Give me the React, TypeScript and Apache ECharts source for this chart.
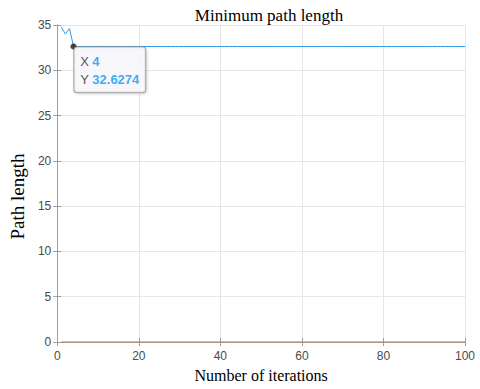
import React, { useEffect, useRef } from "react";
import * as echarts from "echarts";

// Best (minimum) path length found at each iteration (iterations 1..100)
const bestLength: number[] = [
  34.75, 34.0, 34.6, 32.6274, 32.6274, 32.6274, 32.6274, 32.6274, 32.6274, 32.6274,
  32.6274, 32.6274, 32.6274, 32.6274, 32.6274, 32.6274, 32.6274, 32.6274, 32.6274, 32.6274,
  32.6274, 32.6274, 32.6274, 32.6274, 32.6274, 32.6274, 32.6274, 32.6274, 32.6274, 32.6274,
  32.6274, 32.6274, 32.6274, 32.6274, 32.6274, 32.6274, 32.6274, 32.6274, 32.6274, 32.6274,
  32.6274, 32.6274, 32.6274, 32.6274, 32.6274, 32.6274, 32.6274, 32.6274, 32.6274, 32.6274,
  32.6274, 32.6274, 32.6274, 32.6274, 32.6274, 32.6274, 32.6274, 32.6274, 32.6274, 32.6274,
  32.6274, 32.6274, 32.6274, 32.6274, 32.6274, 32.6274, 32.6274, 32.6274, 32.6274, 32.6274,
  32.6274, 32.6274, 32.6274, 32.6274, 32.6274, 32.6274, 32.6274, 32.6274, 32.6274, 32.6274,
  32.6274, 32.6274, 32.6274, 32.6274, 32.6274, 32.6274, 32.6274, 32.6274, 32.6274, 32.6274,
  32.6274, 32.6274, 32.6274, 32.6274, 32.6274, 32.6274, 32.6274, 32.6274, 32.6274, 32.6274,
];

// Second series, flat at zero (iterations 1..100)
const secondSeries: number[] = [
  0, 0, 0, 0, 0, 0, 0, 0, 0, 0,
  0, 0, 0, 0, 0, 0, 0, 0, 0, 0,
  0, 0, 0, 0, 0, 0, 0, 0, 0, 0,
  0, 0, 0, 0, 0, 0, 0, 0, 0, 0,
  0, 0, 0, 0, 0, 0, 0, 0, 0, 0,
  0, 0, 0, 0, 0, 0, 0, 0, 0, 0,
  0, 0, 0, 0, 0, 0, 0, 0, 0, 0,
  0, 0, 0, 0, 0, 0, 0, 0, 0, 0,
  0, 0, 0, 0, 0, 0, 0, 0, 0, 0,
  0, 0, 0, 0, 0, 0, 0, 0, 0, 0,
];

// Data tip
const tipX = 4;
const tipY = 32.6274;

const titleText = "Minimum path length";
const xName = "Number of iterations";
const yName = "Path length";

export default function App() {
  const ref = useRef<HTMLDivElement>(null);

  useEffect(() => {
    if (!ref.current) return;
    const chart = echarts.init(ref.current, null, { renderer: "svg" });
    const iterations = bestLength.map((_, i) => i + 1);
    const axisGray = "#9E9E9E";
    const labelGray = "#4A4A4A";
    const serif = "'Liberation Serif', 'Times New Roman', serif";
    const sans = "'Liberation Sans', Arial, sans-serif";

    const hiddenAxisCommon = {
      axisLine: { show: true, lineStyle: { color: axisGray, width: 1 } },
      axisTick: { show: true, inside: true, length: 4, lineStyle: { color: axisGray } },
      axisLabel: { show: false },
      splitLine: { show: false },
    };

    chart.setOption({
      animation: false,
      backgroundColor: "#ffffff",
      title: {
        text: titleText,
        left: 264,
        textAlign: "center",
        top: 2,
        textStyle: { fontFamily: serif, fontSize: 17, fontWeight: "normal", color: "#000" },
      },
      grid: { left: 56, right: 15, top: 25, bottom: 47, containLabel: false },
      xAxis: [
        {
          type: "value",
          min: 0,
          max: 100,
          interval: 20,
          name: xName,
          nameLocation: "middle",
          nameGap: 25,
          nameTextStyle: { fontFamily: serif, fontSize: 16, color: "#000" },
          axisLine: { show: true, onZero: false, lineStyle: { color: axisGray, width: 1 } },
          axisTick: { show: true, inside: true, length: 4, lineStyle: { color: axisGray } },
          axisLabel: { fontFamily: sans, fontSize: 12, color: labelGray, margin: 8 },
          splitLine: { show: true, lineStyle: { color: "#E6E6E6", width: 1 } },
        },
        {
          type: "value",
          position: "top",
          min: 0,
          max: 100,
          interval: 20,
          ...hiddenAxisCommon,
        },
      ],
      yAxis: [
        {
          type: "value",
          min: 0,
          max: 35,
          interval: 5,
          name: yName,
          nameLocation: "middle",
          nameGap: 19,
          nameTextStyle: {
            fontFamily: serif,
            fontSize: 19,
            color: "#000",
            padding: [0, 26, 0, 0],
          },
          axisLine: { show: true, onZero: false, lineStyle: { color: axisGray, width: 1 } },
          axisTick: { show: true, inside: true, length: 4, lineStyle: { color: axisGray } },
          axisLabel: { fontFamily: sans, fontSize: 12, color: labelGray, margin: 6 },
          splitLine: { show: true, lineStyle: { color: "#E6E6E6", width: 1 } },
        },
        {
          type: "value",
          position: "right",
          min: 0,
          max: 35,
          interval: 5,
          ...hiddenAxisCommon,
        },
      ],
      series: [
        {
          type: "line",
          name: "best",
          data: iterations.map((x, i) => [x, bestLength[i]]),
          showSymbol: false,
          symbol: "none",
          lineStyle: { color: "#2E9BEA", width: 1 },
          z: 3,
        },
        {
          type: "line",
          name: "second",
          data: iterations.map((x, i) => [x, secondSeries[i]]),
          showSymbol: false,
          symbol: "none",
          lineStyle: { color: "#DE6A38", width: 1.2 },
          z: 4,
        },
        {
          type: "scatter",
          name: "datatip",
          data: [[tipX, tipY]],
          symbol: "circle",
          symbolSize: 6,
          itemStyle: { color: "#1a1a1a", borderColor: "#6b6b2a", borderWidth: 0.5 },
          z: 10,
          label: {
            show: true,
            position: [4, 4],
            align: "left",
            verticalAlign: "top",
            formatter: `{l|X} {v|${tipX}}\n{l|Y} {v|${tipY}}`,
            backgroundColor: "#FAFAFF",
            borderColor: "#8C8C8C",
            borderWidth: 1,
            borderRadius: 3,
            padding: [5, 6, 4, 6],
            shadowColor: "rgba(0,0,0,0.18)",
            shadowBlur: 3,
            shadowOffsetX: 1,
            shadowOffsetY: 1,
            rich: {
              l: { fontFamily: sans, fontSize: 13, color: "#262626", lineHeight: 18 },
              v: { fontFamily: sans, fontSize: 13, color: "#0A96F0", fontWeight: "bold", lineHeight: 18 },
            },
          },
        },
      ],
    });

    return () => chart.dispose();
  }, []);

  return (
    <div
      ref={ref}
      style={{ position: "absolute", left: 0, top: 0, width: 480, height: 389 }}
    />
  );
}
